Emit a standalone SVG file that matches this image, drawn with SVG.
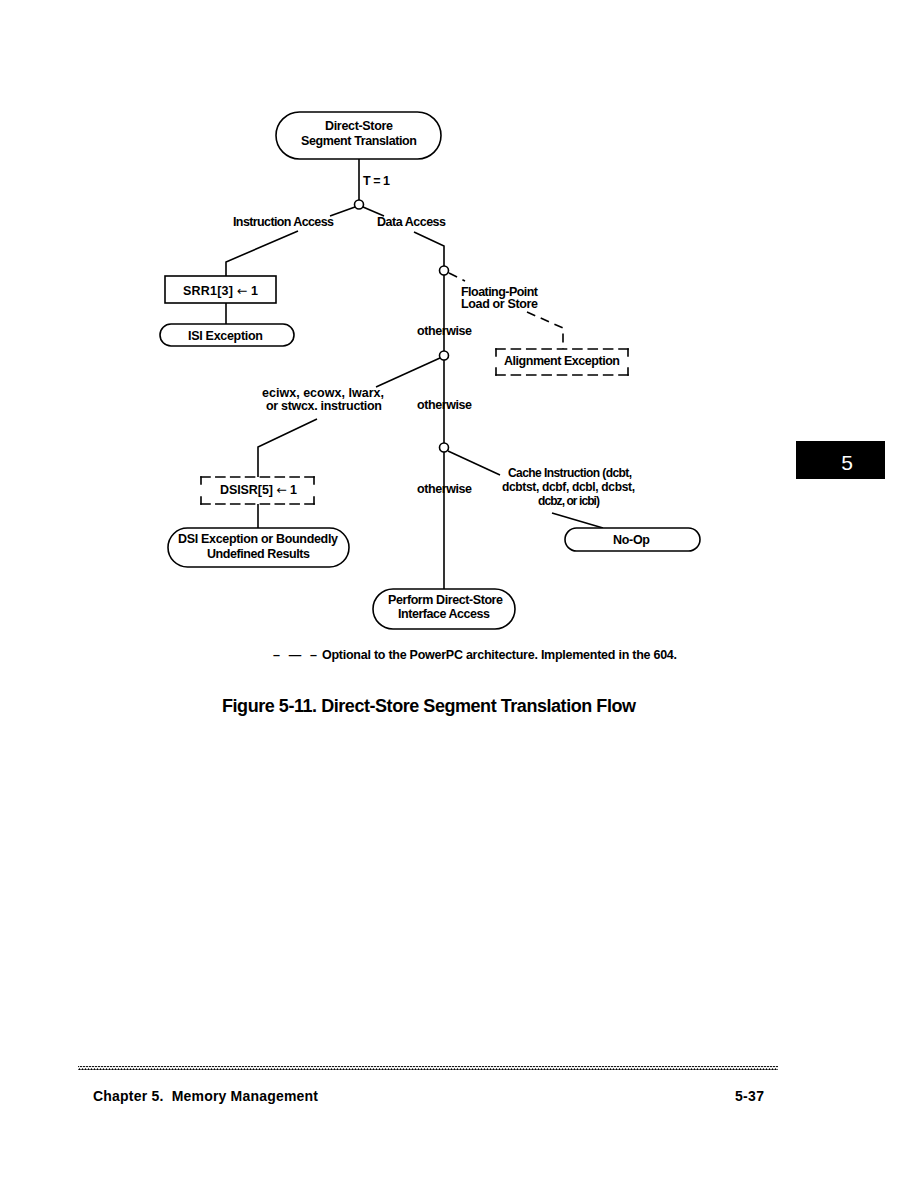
<svg xmlns="http://www.w3.org/2000/svg" width="918" height="1188" viewBox="0 0 918 1188">
<style>
.t{font-family:"Liberation Sans",Arial,sans-serif;font-weight:bold;font-size:12.5px;fill:#000}
.s{font-size:12px}
.ar{font-family:"DejaVu Sans",sans-serif;font-weight:normal}
.ln{fill:none;stroke:#000;stroke-width:1.6}
.dash{fill:none;stroke:#000;stroke-width:1.6;stroke-dasharray:9 6}
.box{fill:#fff;stroke:#000;stroke-width:1.6}
.bg{fill:#fff;stroke:none}
.dh{fill:none;stroke:#000;stroke-width:1.6;stroke-linecap:square}
.dot{fill:#fff;stroke:#000;stroke-width:1.6}
</style>
<defs>
<pattern id="wave" x="0" y="0" width="3" height="4" patternUnits="userSpaceOnUse">
<path d="M0,3 L1.5,1 L3,3" fill="none" stroke="#000" stroke-width="1.1"/>
</pattern>
</defs>
<rect width="918" height="1188" fill="#fff"/>

<g id="connectors">
<path class="ln" d="M359,159 V200"/>
<path class="ln" d="M355,207 L330,216"/>
<path class="ln" d="M363,207 L384,216"/>
<path class="ln" d="M298,231 L226,262 V276"/>
<path class="ln" d="M226,303 V324"/>
<path class="ln" d="M414,232 L444,246 V266"/>
<path class="ln" d="M444,275 V351"/>
<path class="dash" d="M449,273 L465,281"/>
<path class="dash" d="M527,312 L563,328 V349"/>
<path class="ln" d="M440,358 L376,387"/>
<path class="ln" d="M317,419 L258,447 V477"/>
<path class="ln" d="M258,504 V528"/>
<path class="ln" d="M444,360 V443"/>
<path class="ln" d="M448,451 L500,475"/>
<path class="ln" d="M552,513 L603,528"/>
<path class="ln" d="M444,452 V589"/>
<circle class="dot" cx="359" cy="204.5" r="4.5"/>
<circle class="dot" cx="444" cy="270.5" r="4.5"/>
<circle class="dot" cx="444" cy="355.5" r="4.5"/>
<circle class="dot" cx="444" cy="447.5" r="4.5"/>
</g>

<g id="labels">
<text class="t" x="363" y="185" textLength="27">T = 1</text>
<text class="t" x="233" y="226" textLength="101">Instruction Access</text>
<text class="t" x="377" y="226" textLength="69">Data Access</text>
<text class="t" x="461" y="296" textLength="77">Floating-Point</text>
<text class="t" x="461" y="308" textLength="77">Load or Store</text>
<text class="t" x="417" y="335" textLength="55">otherwise</text>
<text class="t" x="262" y="397" textLength="122">eciwx, ecowx, lwarx,</text>
<text class="t" x="266" y="410" textLength="116">or stwcx. instruction</text>
<text class="t" x="417" y="409" textLength="55">otherwise</text>
<text class="t" x="417" y="493" textLength="55">otherwise</text>
<text class="t s" x="508" y="477" textLength="124">Cache Instruction (dcbt,</text>
<text class="t s" x="502" y="491" textLength="133">dcbtst, dcbf, dcbl, dcbst,</text>
<text class="t s" x="538" y="505" textLength="62">dcbz, or icbi)</text>
</g>

<g id="start">
<rect class="box" x="276" y="112" width="165" height="47" rx="23.5"/>
<text class="t" x="325" y="130" textLength="68">Direct-Store</text>
<text class="t" x="301" y="145" textLength="116">Segment Translation</text>
</g>

<g id="srr1">
<rect class="box" x="165" y="276" width="111" height="27"/>
<text class="t" x="183" y="295" textLength="75">SRR1[3] <tspan class="ar">←</tspan> 1</text>
</g>

<g id="isi">
<rect class="box" x="160" y="324" width="134" height="22" rx="11"/>
<text class="t" x="188" y="340" textLength="75">ISI Exception</text>
</g>

<g id="alignment">
<rect class="bg" x="496" y="349" width="132" height="26"/>
<path class="dh" d="M496,349 H628 M496,375 H628" stroke-dasharray="9 6.375"/>
<path class="dh" d="M496,349 V375 M628,349 V375" stroke-dasharray="7 12"/>
<text class="t" x="504" y="365" textLength="116">Alignment Exception</text>
</g>

<g id="dsisr">
<rect class="bg" x="201" y="477" width="113" height="27"/>
<path class="dh" d="M201,477 H314 M201,504 H314" stroke-dasharray="9 5.857"/>
<path class="dh" d="M201,477 V504 M314,477 V504" stroke-dasharray="7 13"/>
<text class="t" x="220" y="494" textLength="77">DSISR[5] <tspan class="ar">←</tspan> 1</text>
</g>

<g id="dsi">
<rect class="box" x="168" y="528" width="181" height="39" rx="19.5"/>
<text class="t" x="178" y="543" textLength="160">DSI Exception or Boundedly</text>
<text class="t" x="207" y="558" textLength="103">Undefined Results</text>
</g>

<g id="noop">
<rect class="box" x="565" y="528" width="135" height="23" rx="11.5"/>
<text class="t" x="613" y="544" textLength="37">No-Op</text>
</g>

<g id="perform">
<rect class="box" x="373" y="589" width="142" height="40" rx="20"/>
<text class="t" x="388" y="604" textLength="115">Perform Direct-Store</text>
<text class="t" x="398" y="618" textLength="92">Interface Access</text>
</g>

<g id="legend">
<text class="t" x="273" y="659" textLength="44">– — –</text>
<text class="t" x="322" y="659" textLength="355">Optional to the PowerPC architecture. Implemented in the 604.</text>
</g>

<g id="caption">
<text class="t" x="222" y="712" style="font-size:18px" textLength="414">Figure 5-11. Direct-Store Segment Translation Flow</text>
</g>

<g id="tab">
<rect x="796" y="441" width="89" height="38" fill="#000"/>
<text x="847" y="470" text-anchor="middle" style="font-family:'Liberation Sans',Arial,sans-serif;font-size:21px;fill:#fff">5</text>
</g>

<g id="footer">
<rect x="78" y="1066" width="700" height="4" fill="url(#wave)"/>
<text class="t" x="93" y="1101" style="font-size:14px" textLength="225" xml:space="preserve">Chapter 5.  Memory Management</text>
<text class="t" x="735" y="1101" style="font-size:14px" textLength="29">5-37</text>
</g>
</svg>
